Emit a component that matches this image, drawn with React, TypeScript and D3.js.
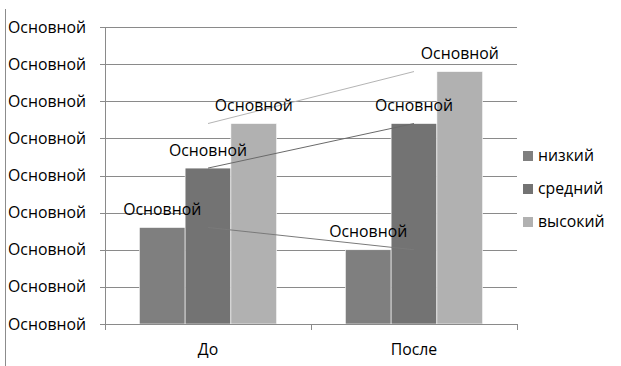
import React from "react";
import * as d3 from "d3";

const categories = ["До", "После"];
const seriesNames = ["низкий", "средний", "высокий"];
const seriesValues = [
  [2.6, 2.0],
  [4.2, 5.4],
  [5.4, 6.8],
];
const tickValues = [0, 1, 2, 3, 4, 5, 6, 7, 8];
const tickLabel = "Основной";
const dataLabel = "Основной";
const barColors = ["#7f7f7f", "#737373", "#b1b1b1"];
const lineColors = ["#7a7a7a", "#6a6a6a", "#b4b4b4"];

const W = 621;
const H = 366;
const FONT = "'Open Sans', Lato, sans-serif";
const FS = 15.8;

export default function App() {
  const plotL = 105, plotR = 517, plotT = 27, plotB = 324;
  const x0 = d3.scaleBand().domain(categories).range([plotL, plotR]);
  const y = d3.scaleLinear().domain([0, 8]).range([plotB, plotT]);
  const bw = x0.bandwidth();
  const gap = 1.5;
  const barW = bw / (3 + gap);
  const x1 = d3.scaleBand().domain(seriesNames).range([barW * gap / 2, bw - barW * gap / 2]);

  return (
    <svg width={W} height={H} style={{ position: "absolute", left: 0, top: 0, background: "#fff" }}>
      <rect x={0} y={0} width={W} height={H} fill="#fff" />
      <line x1={5.5} x2={5.5} y1={9} y2={H} stroke="#8c8c8c" strokeWidth={1} />
      {/* gridlines */}
      {tickValues.map((t) => (
        <g key={t}>
          <line x1={plotL - 5} x2={plotR} y1={Math.round(y(t)) + 0.5} y2={Math.round(y(t)) + 0.5} stroke="#8a8a8a" strokeWidth={1} />
          <text x={86} y={y(t)} dy="0.35em" textAnchor="end" fontFamily={FONT} fontSize={FS} fill="#000">
            {tickLabel}
          </text>
        </g>
      ))}
      <line x1={plotL + 0.5} x2={plotL + 0.5} y1={plotT} y2={plotB} stroke="#8a8a8a" />
      {/* bars */}
      {categories.map((c, ci) => (
        <g key={c}>
          {seriesNames.map((s, si) => (
            <rect
              key={s}
              x={(x0(c) as number) + (x1(s) as number)}
              y={y(seriesValues[si][ci])}
              width={x1.bandwidth()}
              height={plotB - y(seriesValues[si][ci])}
              fill={barColors[si]}
              stroke="#ffffff"
              strokeWidth={0.6}
            />
          ))}
        </g>
      ))}
      {/* connecting lines */}
      {seriesNames.map((s, si) => {
        const line = d3
          .line<number>()
          .x((_, i) => (x0(categories[i]) as number) + bw / 2)
          .y((v) => y(v));
        return <path key={s} d={line(seriesValues[si]) || ""} fill="none" stroke={lineColors[si]} strokeWidth={1} />;
      })}
      {/* data labels */}
      {categories.map((c, ci) =>
        seriesNames.map((s, si) => (
          <text
            key={c + s}
            x={(x0(c) as number) + (x1(s) as number) + x1.bandwidth() / 2}
            y={y(seriesValues[si][ci]) - 18}
            dy="0.35em"
            textAnchor="middle"
            fontFamily={FONT}
            fontSize={FS}
            fill="#000"
          >
            {dataLabel}
          </text>
        ))
      )}
      {/* x axis */}
      <line x1={plotL} x2={plotR} y1={plotB + 0.5} y2={plotB + 0.5} stroke="#8a8a8a" />
      {[plotL, plotL + bw, plotR].map((xv, i) => (
        <line key={i} x1={Math.round(xv) + 0.5} x2={Math.round(xv) + 0.5} y1={plotB} y2={plotB + 6} stroke="#8a8a8a" />
      ))}
      {categories.map((c) => (
        <text key={c} x={(x0(c) as number) + bw / 2} y={349} dy="0.35em" textAnchor="middle" fontFamily={FONT} fontSize={FS} fill="#000">
          {c}
        </text>
      ))}
      {/* legend */}
      {seriesNames.map((s, si) => (
        <g key={s} transform={`translate(523, ${156 + si * 33})`}>
          <rect x={0} y={-5} width={10} height={10} fill={barColors[si]} />
          <text x={15} y={-1} dy="0.35em" fontFamily={FONT} fontSize={FS} fill="#000">
            {s}
          </text>
        </g>
      ))}
    </svg>
  );
}
